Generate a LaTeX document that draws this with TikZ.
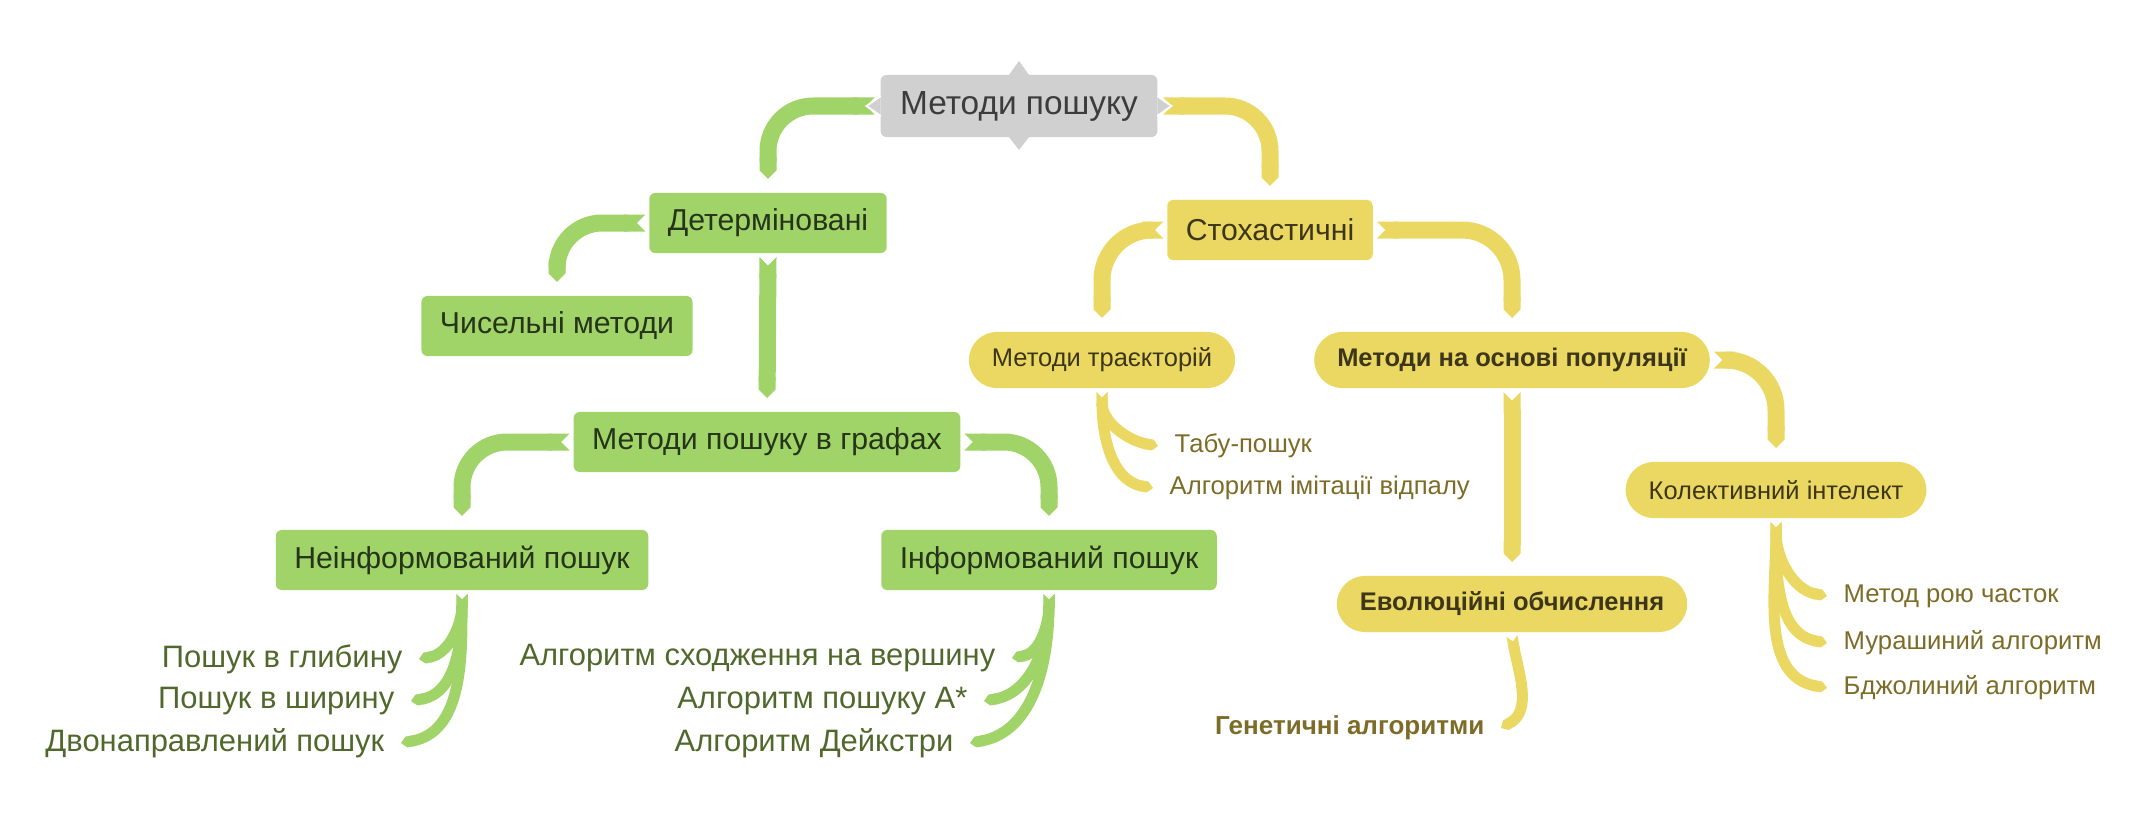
\documentclass[tikz,border=0pt]{standalone}
\usepackage{fontspec}
\setmainfont{Liberation Sans}
\usetikzlibrary{arrows.meta}
\definecolor{grn}{RGB}{160,212,104}
\definecolor{ylw}{RGB}{234,216,98}
\definecolor{gry}{RGB}{208,208,208}
\definecolor{roottxt}{RGB}{60,60,60}
\definecolor{grntxt}{RGB}{38,52,26}
\definecolor{grnleaf}{RGB}{80,104,44}
\definecolor{ylwtxt}{RGB}{62,54,26}
\definecolor{ylwleaf}{RGB}{124,108,40}
\tikzset{
    box/.style={rounded corners=0.06cm, minimum height=0.6cm, inner xsep=0.185cm, outer sep=0.04cm,
        font=\fontsize{8.6pt}{10pt}\selectfont},
    rootbox/.style={box, fill=gry, text=roottxt, outer sep=0pt, minimum height=0.62cm, inner xsep=0.195cm,
        font=\fontsize{9.5pt}{11pt}\selectfont},
    gbox/.style={box, fill=grn, text=grntxt},
    ybox/.style={box, fill=ylw, text=ylwtxt},
    ypill/.style={box, fill=ylw, text=ylwtxt, rounded corners=0.28cm, minimum height=0.56cm, inner xsep=0.23cm,
        font=\fontsize{7.25pt}{8.7pt}\selectfont},
    leaf/.style={inner xsep=0.16cm, inner ysep=0pt},
    gleaf/.style={leaf, text=grnleaf, font=\fontsize{8.8pt}{10.5pt}\selectfont},
    yleaf/.style={leaf, text=ylwleaf, font=\fontsize{7.3pt}{8.7pt}\selectfont},
    branch/.style={line width=0.17cm, {Triangle Cap[reversed]}-{Triangle Cap}, rounded corners=0.45cm,
        shorten >=0.1cm},
    twig/.style={line width=0.11cm, {Triangle Cap[reversed]}-{Triangle Cap}}
}
\begin{document}
\begin{tikzpicture}[x=0.01cm, y=-0.01cm]
    \useasboundingbox (0,0) rectangle (2154,830);
    \node[rootbox] (root) at (1019,106) {Методи пошуку};
    \node[gbox] (det) at (768,223) {Детерміновані};
    \node[ybox] (stoch) at (1270,230) {Стохастичні};
    \node[gbox] (chys) at (557,326) {Чисельні методи};
    \node[gbox] (graf) at (767,442) {Методи пошуку в графах};
    \node[gbox] (neinf) at (462,560) {Неінформований пошук};
    \node[gbox] (inf) at (1049,560) {Інформований пошук};
    \node[ypill] (traj) at (1102,360) {Методи траєкторій};
    \node[ypill, font=\fontsize{7.25pt}{8.7pt}\selectfont\bfseries] (popul) at (1512,360) {Методи на основі популяції};
    \node[ypill] (kolekt) at (1776,490) {Колективний інтелект};
    \node[ypill, font=\fontsize{7.25pt}{8.7pt}\selectfont\bfseries] (evol) at (1512,604) {Еволюційні обчислення};
    % leaves
    \node[gleaf, anchor=east] (glyb) at (419,659) {Пошук в глибину};
    \node[gleaf, anchor=east] (shyr) at (411,701) {Пошук в ширину};
    \node[gleaf, anchor=east] (dvon) at (401,743) {Двонаправлений пошук};
    \node[gleaf, anchor=east] (shod) at (1012,658) {Алгоритм сходження на вершину};
    \node[gleaf, anchor=east] (astar) at (984,701) {Алгоритм пошуку A*};
    \node[gleaf, anchor=east] (deyk) at (970,743) {Алгоритм Дейкстри};
    \node[yleaf, anchor=west] (tabu) at (1158,446) {Табу-пошук};
    \node[yleaf, anchor=west] (vidp) at (1153,488) {Алгоритм імітації відпалу};
    \node[yleaf, anchor=west] (roy) at (1827,596) {Метод рою часток};
    \node[yleaf, anchor=west] (murash) at (1827,643) {Мурашиний алгоритм};
    \node[yleaf, anchor=west] (bdzh) at (1827,688) {Бджолиний алгоритм};
    \node[yleaf, anchor=east, font=\fontsize{7.4pt}{8.8pt}\selectfont\bfseries] (genet) at (1501,728) {Генетичні алгоритми};
    % branches
    \draw[branch, draw=grn, shorten <=0.06cm] (root.west) -| (det.north);
    \draw[branch, draw=ylw, shorten <=0.06cm] (root.east) -| (stoch.north);
    \draw[branch, draw=grn] (det.west) -| (chys.north);
    \draw[branch, draw=grn] (det.south) -- (graf.north);
    \draw[branch, draw=grn] (graf.west) -| (neinf.north);
    \draw[branch, draw=grn] (graf.east) -| (inf.north);
    \draw[branch, draw=ylw, rounded corners=0.5cm] (stoch.west) -| (traj.north);
    \draw[branch, draw=ylw, rounded corners=0.5cm] (stoch.east) -| (popul.north);
    \draw[branch, draw=ylw] (popul.south) -- (evol.north);
    \draw[branch, draw=ylw, rounded corners=0.5cm] (popul.east) -| (kolekt.north);
    % twigs
    \foreach \leafname in {glyb,shyr,dvon}
        \draw[twig, draw=grn] (neinf.south) to[out=-90, in=10] (\leafname.east);
    \foreach \leafname in {shod,astar,deyk}
        \draw[twig, draw=grn] (inf.south) to[out=-90, in=10] (\leafname.east);
    \foreach \leafname in {tabu,vidp}
        \draw[twig, draw=ylw] (traj.south) to[out=-90, in=170] (\leafname.west);
    \foreach \leafname in {roy,murash,bdzh}
        \draw[twig, draw=ylw] (kolekt.south) to[out=-90, in=170] (\leafname.west);
    \draw[twig, draw=ylw] (evol.south) to[out=-80, in=30] (genet.east);
    % root spikes
    \fill[gry] ([xshift=-0.1cm]root.north) -- ([yshift=0.14cm]root.north) -- ([xshift=0.1cm]root.north) -- cycle;
    \fill[gry] ([xshift=-0.1cm]root.south) -- ([yshift=-0.13cm]root.south) -- ([xshift=0.1cm]root.south) -- cycle;
    \filldraw[fill=gry, draw=white, line width=0.02cm] ([yshift=0.1cm]root.west) -- ([xshift=-0.14cm]root.west) -- ([yshift=-0.1cm]root.west);
    \filldraw[fill=gry, draw=white, line width=0.02cm] ([yshift=0.1cm]root.east) -- ([xshift=0.14cm]root.east) -- ([yshift=-0.1cm]root.east);
\end{tikzpicture}
\end{document}
